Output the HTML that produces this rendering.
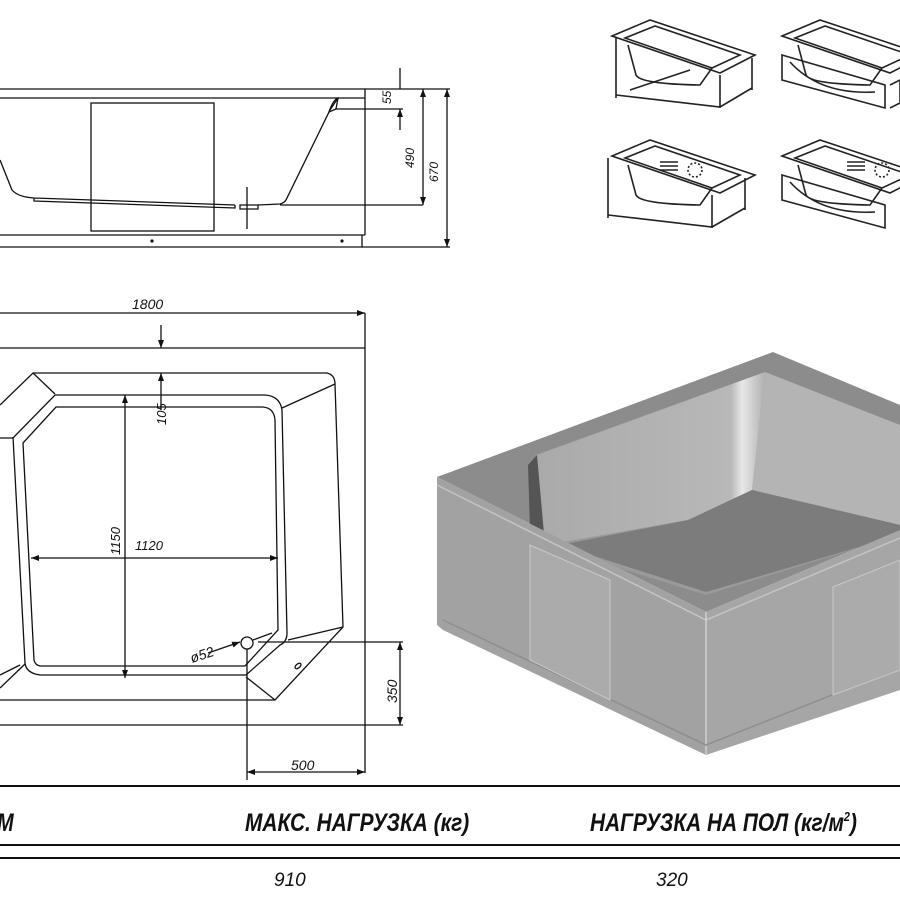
<!DOCTYPE html>
<html><head><meta charset="utf-8"><style>
html,body{margin:0;padding:0;background:#fff;width:900px;height:900px;overflow:hidden}
svg{display:block}
.t{font-family:"Liberation Sans",sans-serif;font-style:italic;fill:#111}
</style></head><body>
<svg width="900" height="900" viewBox="0 0 900 900" xmlns="http://www.w3.org/2000/svg">
<defs>
<marker id="a" markerWidth="8" markerHeight="6" refX="8" refY="3" orient="auto-start-reverse" markerUnits="userSpaceOnUse"><path d="M0,0 L8,3 L0,6z" fill="#111"/></marker>
<linearGradient id="wall" x1="0" y1="0" x2="1" y2="0"><stop offset="0" stop-color="#aaa"/><stop offset="0.85" stop-color="#b8b8b8"/><stop offset="0.9" stop-color="#e8e8e8"/><stop offset="1" stop-color="#b0b0b0"/></linearGradient>
</defs>
<g stroke="#111" stroke-width="1.3" fill="none">
<path d="M0 89 H365 V235 M0 98 H365 M0 235 H365 M0 247 H362 V235"/>
<rect x="91" y="103" width="123" height="128"/>
<path d="M0 160 L12 190 Q18 197 34 198 L235 205 M34 198 L34 201 L235 208 L235 205 M240 205 L258 205 L258 209 L240 209 Z M258 205 L280 204 Q284 203 286 200 L330 110 L338 98"/>
<path d="M329 112 Q333 100 338 98 L336 109 Z"/>
<path d="M247 187 V229"/>
<path d="M280 205 H423 M335 109 H403 M365 89 H450 M362 247 H450"/>
<path d="M400 68 V89 M400 130 V109" marker-end="url(#a)"/>
<path d="M423 89 V205" marker-start="url(#a)" marker-end="url(#a)"/>
<path d="M447 89 V247" marker-start="url(#a)" marker-end="url(#a)"/>
</g>
<circle cx="152" cy="241" r="1.6" fill="#111"/><circle cx="342" cy="241" r="1.6" fill="#111"/>
<text class="t" font-size="12" transform="translate(391,104) rotate(-90)">55</text>
<text class="t" font-size="12" transform="translate(414,168) rotate(-90)">490</text>
<text class="t" font-size="12" transform="translate(438,182) rotate(-90)">670</text>

<g stroke="#111" stroke-width="1.3" fill="none">
<path d="M0 313 H365" marker-end="url(#a)"/>
<path d="M365 313 V773 M0 348 H365 M0 725 H365"/>
<path d="M0 405 L33 373 H327 Q335 375 335 384 L343 627 L275 700 H0"/>
<path d="M33 373 L55 394 M335 384 L282 408 M343 627 L288 640 M275 700 L246 677"/>
<path d="M0 438 H13 L55 395 H265 Q280 396 282 410 L287 633 Q287 642 280 645 L246 675 H40 Q26 673 25 663 L13 437"/>
<path d="M56 407 H263 Q274 408 275 420 L278 630 L245 666 H40 Q35 665 34 660 L23 443 Z"/>
<path d="M0 688 L25 664 M0 675 L20 665"/>
<path d="M161 325 V348" marker-end="url(#a)"/>
<path d="M161 373 V410 M161 385 V373" marker-end="url(#a)"/>
<path d="M125 395 V678" marker-start="url(#a)" marker-end="url(#a)"/>
<path d="M31 558 H278" marker-start="url(#a)" marker-end="url(#a)"/>
<path d="M208 653 L240 642" marker-end="url(#a)"/>
<path d="M253 640 L272 633" />
<circle cx="247" cy="643" r="6"/>
<ellipse cx="298" cy="666" rx="3.5" ry="2" transform="rotate(-40 298 666)"/>
<path d="M247 649 V780 M258 642 H403 M365 725 H403"/>
<path d="M400 642 V725" marker-start="url(#a)" marker-end="url(#a)"/>
<path d="M247 772 H365" marker-start="url(#a)" marker-end="url(#a)"/>
</g>
<text class="t" font-size="14" x="132" y="309">1800</text>
<text class="t" font-size="13" transform="translate(166,425) rotate(-90)">105</text>
<text class="t" font-size="13" transform="translate(120,555) rotate(-90)">1150</text>
<text class="t" font-size="13" x="135" y="550">1120</text>
<text class="t" font-size="14" transform="translate(192,663) rotate(-18)">ø52</text>
<text class="t" font-size="14" transform="translate(397,703) rotate(-90)">350</text>
<text class="t" font-size="14" x="291" y="770">500</text>

<g stroke="#111" stroke-width="2"><path d="M0 786 H900 M0 845 H900 M0 858 H900"/></g>
<g font-family="Liberation Sans,sans-serif" font-weight="bold" font-style="italic" font-size="25" fill="#111">
<text transform="translate(-3,831) scale(0.8,1)">М</text>
<text transform="translate(245,831) scale(0.835,1)">МАКС. НАГРУЗКА (кг)</text>
<text transform="translate(590,831) scale(0.835,1)">НАГРУЗКА НА ПОЛ (кг/м<tspan font-size="13" dy="-10">2</tspan><tspan dy="10">)</tspan></text>
</g>
<text class="t" font-size="19" x="274" y="886">910</text>
<text class="t" font-size="19" x="656" y="886">320</text>

<polygon points="437,477 773,352 900,405 900,530 706,612" fill="#8c8c8c"/>
<polygon points="535,455 765,372 900,425 900,535 706,595 545,545" fill="#9a9a9a"/>
<polygon points="537,455 765,372 752,490 688,520 545,545" fill="url(#wall)"/>
<polygon points="765,372 900,425 900,525 752,490" fill="#b4b4b4"/>
<polygon points="560,545 688,520 752,490 900,525 900,535 706,592" fill="#7c7c7c"/>
<polygon points="528,465 537,455 545,545 530,530" fill="#555"/>
<polygon points="437,477 706,612 706,755 443,630 437,625" fill="#a2a2a2"/>
<polygon points="706,612 900,530 900,690 706,755" fill="#a6a6a6"/>
<path d="M437 485 L706 620 L900 538" stroke="#c4c4c4" stroke-width="1.5" fill="none"/>
<path d="M706 612 V755" stroke="#d0d0d0" stroke-width="1.5"/>
<path d="M443 620 L706 745 L900 668" stroke="#8e8e8e" stroke-width="1.5" fill="none"/>
<polygon points="530,545 610,580 610,700 530,660" fill="#ababab" stroke="#c8c8c8"/>
<polygon points="833,587 900,560 900,670 833,695" fill="#ababab" stroke="#c8c8c8"/>

<g stroke="#222" stroke-width="1.6" fill="none">
<g>
<path d="M612 36 L650 20 L755 55 L720 73 Z M625 38 L655 26 L740 55 L712 68 Z"/>
<path d="M628 45 L636 75 Q640 84 700 85 L712 68"/>
<path d="M616 38 V98 M720 75 V108 M752 58 V90 M616 95 L720 107 L752 88 M630 90 L690 70"/>
</g>
<g transform="translate(0,120)"><path d="M612 36 L650 20 L755 55 L720 73 Z M625 38 L655 26 L740 55 L712 68 Z M628 45 L636 75 Q640 84 700 85 L712 68 M608 38 V98 M712 75 V108 M745 58 V90 M608 95 L712 107 L745 88"/>
<circle cx="695" cy="50" r="7" stroke-dasharray="2 2"/><path d="M660 42 H678 M660 46 H678 M660 50 H678"/></g>
<g transform="translate(170,0)"><path d="M612 36 L650 20 L755 55 L720 73 Z M625 38 L655 26 L740 55 L712 68 Z M628 45 L636 75 Q640 84 700 85 L712 68 M612 55 L715 85 V108 L612 80 Z M620 62 Q650 95 705 92 M720 85 L730 80 V103 L720 108"/></g>
<g transform="translate(170,120)"><path d="M612 36 L650 20 L755 55 L720 73 Z M625 38 L655 26 L740 55 L712 68 Z M628 45 L636 75 Q640 84 700 85 L712 68 M612 55 L715 85 V108 L612 80 Z M620 62 Q650 95 705 92"/>
<circle cx="712" cy="50" r="7" stroke-dasharray="2 2"/><path d="M677 42 H695 M677 46 H695 M677 50 H695"/></g>
</g>
</svg>
</body></html>
